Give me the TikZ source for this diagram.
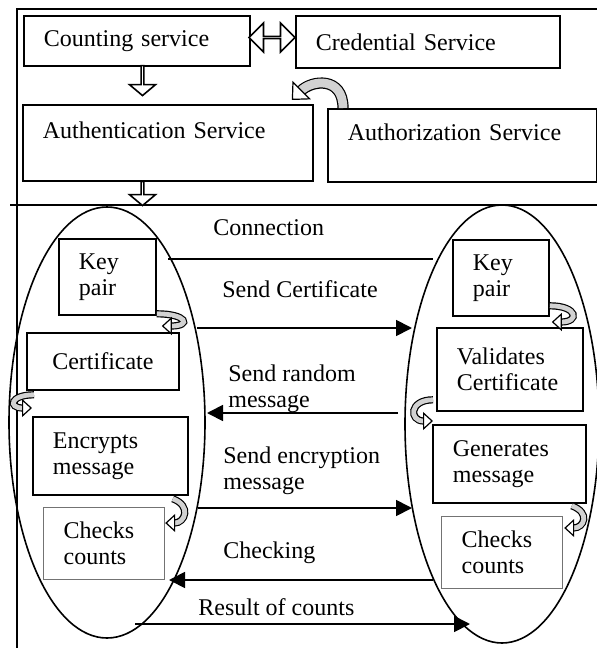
\documentclass[tikz,border=0pt]{standalone}
\usepackage{fontspec}
\setmainfont{Liberation Serif}
\usetikzlibrary{positioning,arrows.meta,shapes.geometric,shapes.arrows}

\tikzset{
  svc/.style={draw, line width=0.9pt, anchor=north west, inner xsep=10pt, inner ysep=0pt, align=left},
  greybox/.style={svc, draw=black!55, line width=0.6pt},
  oval/.style={draw, ellipse, line width=0.8pt, inner sep=0pt},
  msg/.style={line width=0.9pt, -{Triangle[length=8pt,width=8pt]}},
  lbl/.style={inner sep=0pt, align=left},
  hollowdown/.style={draw, fill=white, line width=0.8pt, single arrow, shape border rotate=270,
    single arrow head extend=3.5pt, single arrow head indent=0pt, single arrow tip angle=100,
    inner sep=0pt, minimum width=13pt},
  hollowboth/.style={draw, fill=white, line width=0.8pt, double arrow,
    double arrow head extend=4.5pt, double arrow head indent=0pt,
    inner sep=0pt, minimum width=14.5pt, minimum height=23pt},
  turnarrow/.style={draw=gray!35, line width=0.1pt,
    -{Triangle[open, fill=white, color=black, line width=0.6pt, length=5pt, width=9pt]},
    preaction={draw=black, line width=3.6pt, -, shorten >=4.6pt},
    preaction={draw=gray!35, line width=2.4pt, -, shorten >=4.8pt}},
  bigturn/.style={draw=gray!35, line width=0.1pt,
    -{Triangle[open, fill=white, color=black, line width=0.6pt, length=7pt, width=13pt]},
    preaction={draw=black, line width=5.6pt, -, shorten >=6.5pt},
    preaction={draw=gray!35, line width=4.4pt, -, shorten >=6.7pt}},
}

\begin{document}
\begin{tikzpicture}[x=0.5pt,y=0.5pt,font=\fontsize{12}{13}\selectfont]
  \useasboundingbox (0,0) rectangle (597,-648);
  % frame
  \draw[line width=0.8pt] (17,-648) -- (17,-9) -- (597,-9);
  \draw[line width=0.8pt] (10,-205) -- (597,-205);

  % services
  \node[svc, text width=93pt, minimum height=25pt] (count) at (23,-15) {Counting service};
  \node[svc, text width=112pt, minimum height=26pt] (cred) at (295,-15) {Credential Service};
  \node[svc, text width=125pt, minimum height=38pt] (authn) at (22,-104) {Authentication Service\\~};
  \node[svc, text width=114.5pt, minimum height=36.5pt] (authz) at (327,-108) {Authorization Service\\~};
  \node[hollowboth] (link) at (272,-37.5) {};
  \node[hollowdown, minimum height=15pt] (down1) at (142.5,-80) {};
  \node[hollowdown, minimum height=12pt] (down2) at (142.5,-193) {};
  \draw[bigturn] ([xshift=8pt]authz.north west) to[out=90,in=45,out distance=16pt,in distance=14pt]
    ([xshift=-11pt,yshift=2pt]authn.north east);

  % the two sides
  \node[oval, minimum width=98pt, minimum height=215.5pt] (client) at (107,-422.5) {};
  \node[oval, minimum width=97pt, minimum height=219pt] (server) at (502,-424) {};

  \node[svc, text width=28.5pt, minimum height=38pt] (keyl) at (58,-238) {Key\\pair};
  \node[svc, text width=56pt, minimum height=28.5pt, align=center] (certl) at (26,-332) {Certificate};
  \node[svc, text width=57.5pt, minimum height=39pt] (encl) at (32,-416) {Encrypts\\message};
  \node[greybox, text width=40.5pt, minimum height=36pt] (chkl) at (43,-507) {Checks\\counts};

  \node[svc, text width=28pt, minimum height=38pt] (keyr) at (452,-239) {Key\\pair};
  \node[svc, text width=53pt, minimum height=41.5pt] (valr) at (436,-327) {Validates\\Certificate};
  \node[svc, text width=56.5pt, minimum height=39pt] (genr) at (432,-424) {Generates\\message};
  \node[greybox, text width=40.5pt, minimum height=36pt] (chkr) at (441,-516) {Checks\\counts};

  % steps inside each side
  \draw[turnarrow] ([yshift=1pt]keyl.south east) to[out=0,in=0,out distance=15pt,in distance=15pt]
    ([xshift=-9pt,yshift=3pt]certl.north east);
  \draw[turnarrow] ([xshift=4pt,yshift=-2pt]certl.south west) to[out=180,in=180,out distance=12pt,in distance=12pt]
    ([yshift=4pt]encl.north west);
  \draw[turnarrow] ([xshift=-8pt,yshift=-1.5pt]encl.south east) to[out=-20,in=0,out distance=10pt,in distance=10pt]
    ([yshift=-8pt]chkl.north east);
  \draw[turnarrow] ([yshift=5.5pt]keyr.south east) to[out=0,in=0,out distance=14pt,in distance=14pt]
    ([xshift=-16pt,yshift=2.5pt]valr.north east);
  \draw[turnarrow] ([xshift=-1.5pt,yshift=6pt]valr.south west) to[out=180,in=180,out distance=12pt,in distance=12pt]
    ([xshift=0.5pt,yshift=1.5pt]genr.north west);
  \draw[turnarrow] ([xshift=-7.5pt,yshift=-1pt]genr.south east) to[out=-20,in=0,out distance=10pt,in distance=10pt]
    ([xshift=0.5pt,yshift=-6pt]chkr.north east);

  % messages between the sides
  \coordinate (c1) at (168,-259); \coordinate (s1) at (433,-259);
  \coordinate (c2) at (197,-328); \coordinate (s2) at (412,-328);
  \coordinate (c3) at (207,-413); \coordinate (s3) at (398,-413);
  \coordinate (c4) at (198,-508); \coordinate (s4) at (412,-508);
  \coordinate (c5) at (169,-580); \coordinate (s5) at (433,-580);
  \coordinate (c6) at (135,-624); \coordinate (s6) at (470,-624);
  \draw[line width=0.9pt] (c1) -- (s1);
  \draw[msg] (c2) -- (s2);
  \draw[msg] (s3) -- (c3);
  \draw[msg] (c4) -- (s4);
  \draw[msg] (s5) -- (c5);
  \draw[msg] (c6) -- (s6);

  \node[lbl, anchor=base west] (lconn) at (213,-235) {Connection};
  \node[lbl, anchor=base west] (lcert) at (222,-297) {Send Certificate};
  \node[lbl, anchor=north west] (lrand) at (228,-364) {Send random\\message};
  \node[lbl, anchor=north west] (lenc) at (223,-446) {Send encryption\\message};
  \node[lbl, anchor=base west] (lchk) at (223,-558) {Checking};
  \node[lbl, anchor=base west] (lres) at (198,-615) {Result of counts};
\end{tikzpicture}
\end{document}
